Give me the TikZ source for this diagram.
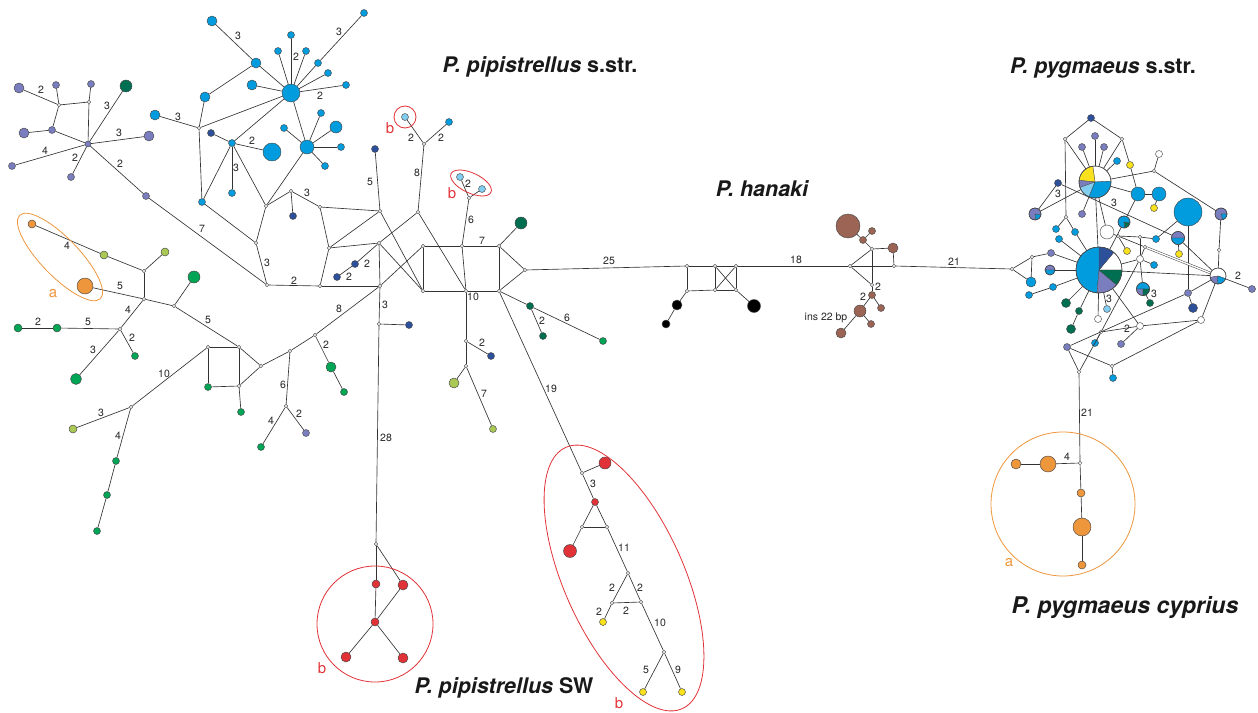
\documentclass[tikz,border=0pt]{standalone}
\usepackage{fontspec}
\setmainfont{TeX Gyre Heros}
\definecolor{pv}{RGB}{122,126,190}
\definecolor{cy}{RGB}{0,156,222}
\definecolor{db}{RGB}{45,80,155}
\definecolor{dg}{RGB}{0,110,80}
\definecolor{gr}{RGB}{0,165,85}
\definecolor{yg}{RGB}{170,200,85}
\definecolor{or}{RGB}{237,150,60}
\definecolor{rd}{RGB}{225,50,55}
\definecolor{ye}{RGB}{250,225,30}
\definecolor{br}{RGB}{155,100,85}
\definecolor{lb}{RGB}{130,205,240}
\definecolor{ol}{RGB}{70,70,70}
\tikzset{
 hap/.style={circle, draw=ol, line width=0.45pt, inner sep=0pt, minimum size={2*#1*1pt}},
 jn/.style={circle, draw=black!65, fill=white, line width=0.45pt, inner sep=0pt, minimum size=3.6pt},
 edge/.style={draw=black!80, line width=0.65pt},
 lab/.style={font=\fontsize{10.5}{12}\selectfont, text=black!85, inner sep=0pt},
 grp/.style={font=\fontsize{15}{18}\selectfont, inner sep=0pt},
 ttl/.style={font=\fontsize{21.5}{25}\selectfont\bfseries\itshape, text=black!90, inner sep=0pt, anchor=base},
 redline/.style={draw=rd, line width=0.8pt},
 orline/.style={draw=or, line width=0.8pt}
}
\newcommand\pie[3]{\begin{scope}[shift={(#1)},x=1pt,y=1pt]
 \foreach \a/\b/\c in {#3}{\filldraw[fill=\c,draw=ol,line width=0.3pt] (0,0) -- (\a:#2) arc[start angle=\a,end angle=\b,radius=#2] -- cycle;}
 \draw[draw=ol,line width=0.5pt] (0,0) circle[radius=#2];
\end{scope}}
\begin{document}
\begin{tikzpicture}[x=1pt,y=-1pt]
\useasboundingbox (0,0) rectangle (1258,712);
% haplotype nodes
\foreach \n/\p/\r/\c in {
vh/{88,144}/3/pv, v1/{19,88}/5/pv, v2/{56,85}/3.5/pv, v3/{91,84}/3.5/pv, g1/{126,86}/6/dg, v4/{52,130}/3.5/pv, v5/{24,133}/5/pv, v6/{149,136}/5/pv, v7/{12,166}/3.5/pv, v8/{71,177}/3.5/pv, v9/{146,196}/3.5/pv,
bh/{291,93}/9/cy, b1/{212,21}/5/cy, b2/{256,63}/5/cy, b3/{252,85}/5/cy, b4/{291,35}/3.5/cy, b5/{278,51}/3.5/cy, b6/{306,51}/3.5/cy, b7/{364,13}/3.5/cy, b8/{318,63}/3.5/cy, b9/{328,73}/3.5/cy, b10/{346,85}/3.5/cy, b11/{205,97}/5/cy, b12/{155,115}/5/cy, b13/{202,202}/3.5/cy, db1/{211,133}/3.5/db, b14/{232,143}/3.5/cy, b15/{272,152}/9/cy, b16/{232,193}/3.5/cy, bb/{307,147}/7/cy, b17/{284,128}/3.5/cy, b18/{321,113}/3.5/cy, b19/{336,127}/6/cy, b20/{341,147}/3.5/cy, b21/{325,166}/3.5/cy, db2/{293,216}/3.5/db, db3/{375,149}/3.5/db, db4/{355,264}/3.5/db, db5/{337,277}/3.5/db,
lb1/{405,117}/3.5/lb, b22/{449,122}/3.5/cy, lb2/{460,177}/3.5/lb, lb3/{482,189}/3.5/lb, dg2/{521,223}/6/dg, db6/{409,325}/3.5/db, g2/{331,367}/5/gr, g3/{344,392}/3.5/gr, g4/{261,447}/3.5/gr, v10/{306,433}/3.5/pv, k3/{208,387}/3.5/gr, g5/{241,412}/3.5/gr, yg1/{73,429}/4/yg, g6/{116,461}/3.5/gr, g7/{107,495}/3.5/gr, g8/{97,531}/3.5/gr, g9/{194,277}/6/gr, or1/{85,286}/8/or, yg2/{104,255}/4/yg, or2/{32,224}/4/or, yg3/{165,252}/4/yg, g10/{57,328}/4/gr, g11/{18,328}/4/gr, g12/{135,356}/3.5/gr, g13/{76,379}/5.5/gr, db7/{491,356}/3.5/db, yg4/{454,383}/5/yg, yg5/{493,429}/3.5/yg, dg3/{530,306}/3.5/dg, dg4/{543,336}/3.5/dg, g14/{603,341}/3.5/gr,
rd1/{605,463}/6/rd, rd2/{595,502}/3.5/rd, rd3/{570,551}/6.5/rd, ye1/{603,622}/3.5/ye, ye2/{643,692}/3.5/ye, ye3/{682,692}/3.5/ye, rd4/{376,584}/4/rd, rd5/{403,585}/5/rd, rd6/{375,622}/4/rd, rd7/{346,657}/5/rd, rd8/{403,658}/5/rd,
bk1/{677,305}/5/black, bk2/{666,324}/4/black, bk3/{754,306}/6.5/black, br1/{893,248}/5/br, br2/{863,240}/3.5/br, br3/{848,226}/12/br, br4/{872,231}/3.5/br, br5/{872,295}/3.5/br, br6/{881,308}/3.5/br, br7/{860,311}/6/br, br8/{871,324}/3.5/br, br9/{841,333}/5/br,
rv1/{1051,253}/3.5/pv, rp1/{1050,270}/5/white, rc1/{1031,282}/5/cy, rc2/{1053,287}/3.5/cy, rc3/{1029,295}/3.5/cy, P2/{1099,270}/23/white, P1/{1095,182}/16/white, rdb1/{1091,118}/3.5/db, rv2/{1095,136}/3.5/pv, rv3/{1082,147}/3.5/pv, rv4/{1104,147}/3.5/pv, rc4/{1117,161}/3.5/cy, ry1/{1130,165}/3.5/ye, rw1/{1159,154}/3.5/white, rc5/{1138,194}/7/cy, rc6/{1159,194}/7/cy, ry2/{1154,208}/3.5/ye, rdb2/{1058,183}/3.5/db, rp2/{1035,214}/6/white, rc7/{1188,212}/14/cy, rp3/{1221,214}/6/white, rv5/{1082,214}/3.5/pv, rp4/{1124,222}/6/white, rw2/{1107,232}/7/white, rc8/{1056,229}/3.5/cy, rc9/{1075,232}/3.5/cy, rc10/{1059,239}/3.5/cy, rc11/{1156,239}/3.5/cy, rp5/{1178,238}/6.5/white, ry3/{1127,251}/3.5/ye, ry4/{1179,254}/3.5/ye, rw3/{1140,259}/3.5/white, rc12/{1154,265}/3.5/cy, rp6/{1218,276}/8/white, rv6/{1252,289}/3.5/pv, rp7/{1143,289}/6.5/white, rdg1/{1150,303}/3.5/dg, rv7/{1188,293}/3.5/pv, rdb3/{1193,308}/4.5/db, rdg2/{1066,303}/4.5/dg, rdg3/{1079,311}/3.5/dg, rdg4/{1071,329}/4.5/dg, rlb/{1107,309}/3.5/lb, rw4/{1098,319}/3.5/white, rw5/{1140,326}/3.5/white, rw6/{1201,320}/3.5/white, rc13/{1095,343}/3.5/cy, rv8/{1121,344}/3.5/pv, rv9/{1067,347}/3.5/pv, rc14/{1113,378}/3.5/cy, ro1/{1048,464}/8/or, ro2/{1016,464}/5/or, ro3/{1081,493}/4/or, ro4/{1082,527}/9/or, ro5/{1082,565}/4/or}
 {\node[hap=\r, fill=\c] (\n) at (\p) {};}
% median vectors
\foreach \n/\p in {ja/{59,105}, jb/{89,102}, jc/{199,128}, jd/{266,206}, je/{291,191}, jf/{320,207}, jg/{380,211}, jh/{256,243}, ji/{267,285}, jj/{320,286}, jk/{329,248}, jl/{379,243}, jm/{380,286}, jn/{418,212}, jo/{424,144}, jp/{469,198}, r1/{423,246}, r2/{462,246}, r3/{499,246}, r4/{499,291}, r5/{466,291}, r6/{423,291}, r7/{525,270}, jq/{315,335}, jr/{379,324}, js/{376,544}, jt/{290,351}, ju/{286,406}, jv/{261,366}, k1/{208,347}, k2/{239,347}, k4/{239,386}, jw/{131,407}, jx/{174,306}, jy/{144,299}, jz/{144,271}, ka/{120,329}, kb/{466,341}, kc/{466,366}, kd/{582,473}, ke/{582,527}, kf/{607,527}, kg/{628,573}, kh/{612,603}, ki/{641,602}, kj/{664,652}, h1/{687,266}, h2/{715,266}, h3/{736,266}, h4/{687,291}, h5/{715,290}, h6/{736,290}, ha/{850,266}, hb/{872,249}, hc/{894,266}, hd/{872,285}, ra/{1012,269}, rb/{1032,257}, rj1/{1065,139}, rj2/{1122,139}, rj3/{1154,171}, rj4/{1066,217}, rj5/{1118,236}, rj6/{1140,237}, rj7/{1145,247}, rj8/{1219,250}, rj9/{1101,332}, rj10/{1079,372}, rj11/{1112,366}, rj12/{1080,463}}
 {\node[jn] (\n) at (\p) {};}
% connectors
\foreach \a/\b in {v1/ja, v2/ja, ja/jb, v3/jb, ja/v4, v5/v4, v4/vh, jb/vh, vh/g1, vh/v6, vh/v7, vh/v8, vh/v9, v9/ji,
b1/b2, b2/bh, b3/bh, b4/bh, b5/bh, b6/bh, bh/b8, b8/b7, b9/bh, b10/bh, b11/b2, b12/jc, jc/b11, jc/bh, jc/b13, db1/b14, bh/b14, b14/b15, b14/b16, b14/b13, b14/jd, bh/bb, bb/b17, bb/b18, bb/b19, bb/b20, bb/b21, bb/jd, jd/je, je/db2, je/jf, jf/jg, db3/jg, b13/jh, jd/jh, jh/ji, ji/jj, jf/jk, jk/jj, jk/jg, jk/jl, jl/jm, jj/jm, jl/db4, db4/db5,
jo/lb1, jo/b22, jo/jn, jn/jl, jg/r6, jl/r6, jn/r5, jp/lb2, jp/lb3, jp/r2, r1/r2, r2/r3, r3/r4, r1/r6, r6/r5, r5/r4, r2/r5, r3/r7, r4/r7, r3/dg2, jq/jm, jm/r1, jm/jr, jr/db6, jr/js, jq/g2, g2/g3, jq/jt, jt/ju, ju/g4, ju/v10, jt/jv, jv/k2, jv/k4, k1/k2, k1/k3, k3/k4, k2/k4, k4/g5, k1/jw, jw/yg1, jw/g6, g6/g7, g7/g8, k2/jx, jx/g9, jx/jy, jy/or1, jy/jz, jz/yg2, yg2/or2, jz/yg3, jy/ka, ka/g10, g10/g11, ka/g12, ka/g13, r5/kb, kb/db7, kb/kc, kc/yg4, kc/yg5, r4/dg3, dg3/dg4, dg3/g14, r4/kd,
kd/rd1, kd/rd2, rd2/ke, rd2/kf, ke/kf, ke/rd3, kf/kg, kg/kh, kg/ki, kh/ki, kh/ye1, ki/kj, kj/ye2, kj/ye3, js/rd4, js/rd5, rd4/rd6, rd5/rd6, rd6/rd7, rd6/rd8,
r7/h1, h1/h2, h2/h3, h4/h5, h5/h6, h1/h4, h2/h5, h3/h6, h2/h6, h3/h5, h4/bk1, bk1/bk2, h6/bk3, h3/ha, ha/hb, ha/hc, ha/hd, hb/hd, hb/br1, br1/hc, hb/br2, br2/br3, br2/br4, hd/br5, br5/br6, br5/br7, br7/br8, br7/br9, hc/ra,
ra/rb, ra/rc1, rb/rv1, rb/rc1, rv1/P2, rp1/P2, rc3/rc2, rc2/P2, rdb1/rj1, rdb1/rj2, rj1/P1, rj1/rj4, rj2/P1, rj2/ry1, ry1/rc5, rv2/P1, rv3/P1, rv4/P1, rc4/P1, P1/rj3, rj3/rw1, rj3/rp3, P1/rc5, rc5/rc6, rc6/ry2, rdb2/rp2, rp2/P1, rdb2/rp5, P1/P2, P1/rw2, P1/rv5, rj4/rc8, rj4/rc9, rc9/P2, rc10/P2, rp4/rc5, rp4/P2, rw2/rj5, rj5/rj6, rj6/rc11, rj5/rj7, rj6/rw3, rj7/rw3, rw3/rc12, rw3/rp7, rw3/P2, ry3/rj5, rc11/rc7, rc7/rv7, rp5/ry4, rp5/rp6, rp3/rj8, rj8/rp6, rp6/rv6, rp6/rw6, P2/rp6, rv7/rdb3, rv7/rv9, rv7/rp6, rp7/rdg1, P2/rdg2, P2/rdg3, rdg3/rdg4, P2/rw4, P2/rlb, P2/rw5, rw5/rw6, rw5/rj9, rw5/rv8, rj9/rc13, rj9/rj10, rj9/rw3, rv9/rj10, rv9/rj11, rj11/rc14, rj11/rw6, rj10/rj12, rj12/ro1, ro1/ro2, rj12/ro3, ro3/ro4, ro4/ro5}
 {\draw[edge] (\a) -- (\b);}
\draw[edge, line width=0.45pt, double, double distance=1.4pt] (rj7) -- (rp6);
% pies
\pie{1095,182}{16}{3/98/white, 98/174/ye, 174/200/pv, 200/248/lb, 248/363/cy}
\pie{1099,270}{23}{0/50/white, 50/90/db, 90/265/cy, 265/320/pv, 320/360/dg}
\pie{1050,270}{5}{0/180/pv, 180/360/cy}
\pie{1035,214}{6}{-10/280/pv, 280/350/cy}
\pie{1221,214}{6}{0/290/pv, 290/360/cy}
\pie{1124,222}{6}{-10/280/cy, 280/350/dg}
\pie{1178,238}{6.5}{0/180/pv, 180/360/cy}
\pie{1218,276}{8}{-20/190/white, 190/265/pv, 265/340/cy}
\pie{1143,289}{6.5}{0/180/cy, 180/270/pv, 270/360/dg}
% mutation counts
\foreach [count=\i] \p/\t in {{41,90}/2, {107,106}/3, {119,133}/3, {45,151}/4, {75,158}/2, {120,164}/2, {202,229}/7,
{238,36}/3, {296,57}/2, {339,32}/3, {320,96}/2, {178,117}/3, {252,141}/2, {236,168}/3, {307,193}/3, {370,182}/5, {267,263}/3, {294,281}/2, {367,264}/2, {349,277}/2,
{411,138}/2, {441,138}/2, {417,173}/8, {468,184}/2, {471,220}/6, {482,241}/7, {473,297}/10, {609,261}/25,
{385,305}/3, {386,438}/28, {339,309}/8, {326,345}/2, {283,385}/6, {271,421}/4, {299,414}/2,
{164,374}/10, {101,413}/3, {118,436}/4, {208,320}/5, {120,286}/5, {67,246}/4, {128,310}/4, {88,322}/5, {38,322}/2, {132,338}/2, {93,350}/3,
{482,343}/2, {484,394}/7, {542,321}/2, {567,318}/6, {551,389}/19,
{593,484}/3, {624,548}/11, {612,588}/2, {640,588}/2, {626,611}/2, {599,612}/2, {660,623}/10, {646,670}/5, {678,670}/9,
{796,260}/18, {878,287}/2, {863,297}/2, {954,262}/21, {826,318}/ins 22 bp,
{1058,194}/3, {1114,203}/3, {1238,276}/2, {1154,294}/3, {1109,299}/3, {1127,329}/2, {1087,413}/21, {1067,457}/4}
 {\node[lab] (lab\i) at (\p) {\t};}
% group outlines
\draw[orline, rotate around={-46:(60,257)}] (60,257) ellipse [x radius=58, y radius=19];
\draw[redline] (405,117) circle [radius=11];
\draw[redline, rotate around={-25:(471,183)}] (471,183) ellipse [x radius=22, y radius=10];
\draw[redline] (375,624) circle [radius=58];
\draw[redline, rotate around={-66:(624,578)}] (624,578) ellipse [x radius=143, y radius=60];
\draw[orline] (1063,504) circle [radius=72];
\node[grp, text=or] (ga1) at (53,294) {a};
\node[grp, text=rd] (gb1) at (390,128) {b};
\node[grp, text=rd] (gb2) at (452,193) {b};
\node[grp, text=rd] (gb3) at (322,668) {b};
\node[grp, text=rd] (gb4) at (619,703) {b};
\node[grp, text=or] (ga2) at (1009,563) {a};
% titles
\node[ttl] (t1) at (540,72) {P. pipistrellus \upshape s.str.};
\node[ttl] (t2) at (762,196) {P. hanaki};
\node[ttl] (t3) at (1103,73) {P. pygmaeus \upshape s.str.};
\node[ttl, font=\fontsize{23}{27}\selectfont\bfseries\itshape] (t4) at (1125,613) {P. pygmaeus cyprius};
\node[ttl] (t5) at (504,693) {P. pipistrellus \upshape SW};
\end{tikzpicture}
\end{document}
